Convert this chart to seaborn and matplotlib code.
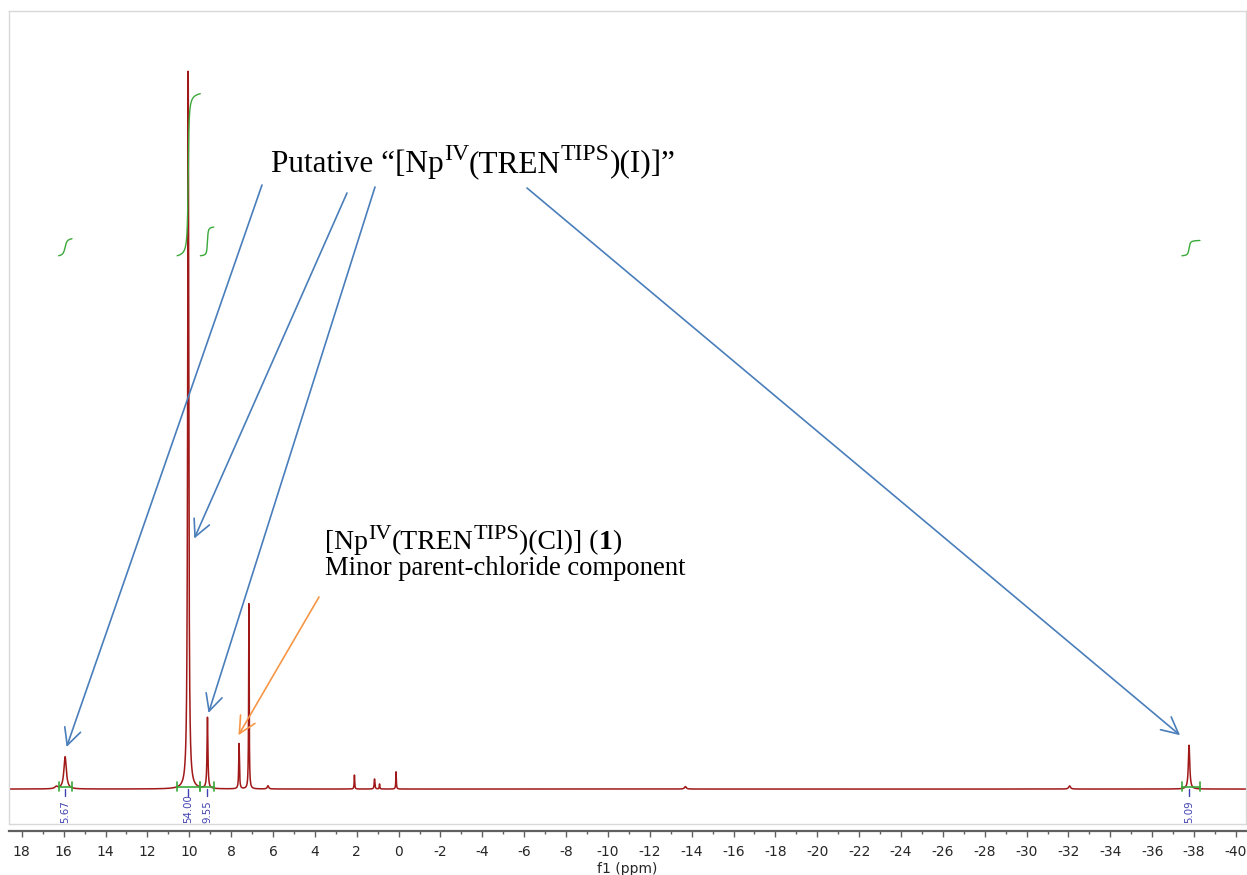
import numpy as np
import pandas as pd
import matplotlib
matplotlib.use("Agg")
import matplotlib.pyplot as plt
import seaborn as sns
from matplotlib.ticker import MultipleLocator

# ---------------- data ----------------
peak_ppm    = [16.35, 15.93, 10.05, 9.13, 7.62, 7.15, 6.24, 2.11, 1.15, 0.91, 0.12, -13.70, -32.05, -37.76]
peak_height = [0.30, 4.5, 100.0, 9.9, 6.3, 25.8, 0.45, 1.95, 1.4, 0.7, 2.4, 0.35, 0.45, 6.1]
peak_hwhm   = [0.08, 0.07, 0.03, 0.025, 0.02, 0.015, 0.04, 0.015, 0.02, 0.015, 0.015, 0.05, 0.05, 0.04]

integral_values = [5.67, 54.00, 9.55, 5.09]
integral_labels = ["5.67", "54.00", "9.55", "5.09"]
integral_peak   = [15.93, 10.05, 9.13, -37.76]
integral_from   = [16.24, 10.58, 9.47, -37.42]
integral_to     = [15.60, 9.47, 8.83, -38.28]

# arrow targets (ppm, intensity)
blue_tip_ppm    = [15.86, 9.76, 9.08, -37.33]
blue_tip_height = [5.85, 34.9, 10.6, 7.5]
orange_tip_ppm, orange_tip_height = 7.65, 7.5

x_ticks = list(range(18, -41, -2))

# annotation texts: (text, superscript?, bold?)
title_segments = [("Putative “[Np", False, False), ("IV", True, False), ("(TREN", False, False),
                  ("TIPS", True, False), (")(I)]”", False, False)]
minor_segments = [("[Np", False, False), ("IV", True, False), ("(TREN", False, False),
                  ("TIPS", True, False), (")(Cl)] (", False, False), ("1", False, True),
                  (")", False, False)]
minor_line2 = "Minor parent-chloride component"

# ---------------- spectrum ----------------
ppm = np.arange(18.6, -40.5, -0.002)
def lorentz(x, c, h, g):
    return h * g**2 / (g**2 + (x - c)**2)
intensity = np.zeros_like(ppm)
for c, h, g in zip(peak_ppm, peak_height, peak_hwhm):
    intensity += lorentz(ppm, c, h, g)
df = pd.DataFrame({"ppm": ppm, "intensity": intensity})

sns.set_theme(style="white")
plt.rcParams["font.family"] = ["DejaVu Sans"]
plt.rcParams["axes.unicode_minus"] = False

W, H, DPI = 1247, 875, 100
fig = plt.figure(figsize=(W/DPI, H/DPI), dpi=DPI)
ax = fig.add_axes([9/W, 1-824/H, (1246-9)/W, (824-11)/H])

red = "#a01818"
sns.lineplot(data=df, x="ppm", y="intensity", ax=ax, color=red, lw=1.1,
             estimator=None, sort=False)

ax.set_xlim(18.61, -40.48)
ax.set_ylim(-4.87, 108.4)

# integrals
k = 0.418          # intensity units per integral unit
base = 74.3
green = "#3aa83a"
blue_lbl = "#4040b0"
for val, lab, pk, a, b in zip(integral_values, integral_labels, integral_peak,
                              integral_from, integral_to):
    xs = np.arange(a, b, -0.002)
    i = peak_ppm.index(pk)
    L = lorentz(xs, pk, peak_height[i], peak_hwhm[i])
    cum = np.cumsum(L)
    cum = (cum - cum[0]) / (cum[-1] - cum[0])
    ax.plot(xs, base + k * val * cum, color=green, lw=1.0)
    ax.plot([a, b], [0.35, 0.35], color=green, lw=1.2)
    ax.plot([a, a], [-0.3, 1.0], color=green, lw=1.2)
    ax.plot([b, b], [-0.3, 1.0], color=green, lw=1.2)
    ax.plot([pk, pk], [0, -1.0], color=blue_lbl, lw=1.0)
    ax.text(pk, -4.75, lab, rotation=90, ha="center", va="bottom",
            fontsize=7.3, color=blue_lbl)

# frame / axis styling
frame_c = "#d8d8d8"
for s in ["left", "top", "right"]:
    ax.spines[s].set_color(frame_c)
    ax.spines[s].set_linewidth(1.0)
ax.spines["bottom"].set_position(("outward", 4.8))
ax.spines["bottom"].set_color("#606060")
ax.spines["bottom"].set_linewidth(1.6)
ax.plot([0, 1], [0, 0], transform=ax.transAxes, color=frame_c, lw=1.0, clip_on=False)

ax.set_yticks([])
ax.set_ylabel("")
ax.set_xticks(x_ticks)
ax.xaxis.set_minor_locator(MultipleLocator(1))
ax.tick_params(axis="x", which="major", direction="out", length=4.2, width=1.0,
               color="#606060", labelsize=10, pad=6, bottom=True)
ax.tick_params(axis="x", which="minor", direction="out", length=1.8, width=1.0,
               color="#606060", bottom=True)
ax.set_xlabel("f1 (ppm)", fontsize=10, labelpad=2)

# arrows
def fig_pt(px, py):
    return (px / W, 1 - py / H)
blue = "#4a7ebb"
orange = "#f79646"
aprops = dict(arrowstyle="->,head_length=0.6,head_width=0.3", lw=1.2,
              shrinkA=0, shrinkB=0, mutation_scale=20)
starts = [fig_pt(262, 185), fig_pt(347, 193), fig_pt(375, 187), fig_pt(527, 188)]
for (sx, sy), tx, ty in zip(starts, blue_tip_ppm, blue_tip_height):
    ax.annotate("", xy=(tx, ty), xycoords="data", xytext=(sx, sy),
                textcoords="figure fraction", arrowprops=dict(color=blue, **aprops))
ax.annotate("", xy=(orange_tip_ppm, orange_tip_height), xycoords="data",
            xytext=fig_pt(319, 597), textcoords="figure fraction",
            arrowprops=dict(color=orange, **aprops))

# texts with superscripts, laid out piece by piece
serif = ["Liberation Serif", "DejaVu Serif"]
renderer = fig.canvas.get_renderer()
def rich_text(x_px, y_px, segments, size, sup_scale=0.76, sup_rise=0.37):
    x = x_px
    em = size * DPI / 72
    for txt, sup, bold in segments:
        fs = size * (sup_scale if sup else 1.0)
        yy = y_px - (sup_rise * em if sup else 0)
        t = fig.text(x / W, 1 - yy / H, txt, fontsize=fs, family=serif,
                     fontweight="bold" if bold else "normal", color="black",
                     ha="left", va="baseline")
        x += t.get_window_extent(renderer).width

rich_text(271, 172, title_segments, 22.5)
rich_text(325, 549, minor_segments, 20.0, sup_scale=0.8)
fig.text(*fig_pt(325, 575), minor_line2, fontsize=19.2, family=serif,
         color="black", ha="left", va="baseline")

fig.savefig("out.png", dpi=DPI)
